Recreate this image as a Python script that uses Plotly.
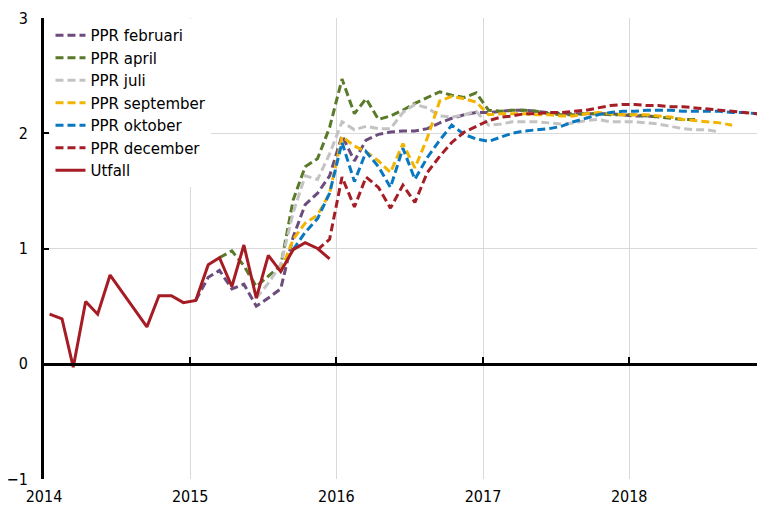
import pandas as pd
import plotly.graph_objects as go

# ---------------- data ----------------
utfall_months = ["2014-01", "2014-02", "2014-03", "2014-04", "2014-05", "2014-06",
                 "2014-09", "2014-10", "2014-11", "2014-12",
                 "2015-01", "2015-02", "2015-03", "2015-04", "2015-05", "2015-06",
                 "2015-07", "2015-08", "2015-09", "2015-10", "2015-11", "2015-12"]
utfall = [0.43, 0.39, -0.03, 0.54, 0.43, 0.77,
          0.32, 0.59, 0.59, 0.53,
          0.55, 0.86, 0.92, 0.67, 1.03, 0.57,
          0.94, 0.80, 0.99, 1.05, 1.00, 0.91]

ppr_feb_start = "2015-01"
ppr_feb = [0.55, 0.75, 0.81, 0.65, 0.69, 0.50, 0.57, 0.65, 1.10, 1.38, 1.48, 1.63,
           1.98, 1.76, 1.94, 1.99, 2.01, 2.02, 2.02, 2.04, 2.09, 2.13, 2.16, 2.18,
           2.18, 2.19, 2.20, 2.20, 2.19, 2.18, 2.17, 2.17, 2.17, 2.17, 2.17, 2.16,
           2.15, 2.15, 2.14]

ppr_apr_start = "2015-03"
ppr_apr = [0.92, 0.98, 0.85, 0.67, 0.76, 0.85, 1.42, 1.71, 1.78, 2.05,
           2.47, 2.17, 2.30, 2.12, 2.15, 2.20, 2.26, 2.31, 2.36, 2.33, 2.31, 2.35,
           2.20, 2.19, 2.20, 2.20, 2.19, 2.17, 2.16, 2.16, 2.17, 2.17, 2.16, 2.16,
           2.16, 2.15, 2.14, 2.13, 2.12, 2.12]

ppr_jul_start = "2015-06"
ppr_jul = [0.57, 0.70, 0.86, 1.31, 1.63, 1.60, 1.82,
           2.10, 2.03, 2.06, 2.04, 2.04, 2.18, 2.25, 2.22, 2.15, 2.14, 2.16, 2.19,
           2.07, 2.08, 2.10, 2.10, 2.10, 2.09, 2.08, 2.09, 2.11, 2.12, 2.10, 2.10,
           2.10, 2.09, 2.08, 2.06, 2.04, 2.03, 2.03, 2.01]

ppr_sep_start = "2015-08"
ppr_sep = [0.80, 1.08, 1.22, 1.29, 1.48,
           1.97, 1.89, 1.84, 1.76, 1.66, 1.91, 1.70, 1.96, 2.28, 2.32, 2.30, 2.27,
           2.16, 2.17, 2.17, 2.17, 2.16, 2.16, 2.15, 2.15, 2.17, 2.18, 2.17, 2.16,
           2.16, 2.16, 2.15, 2.14, 2.12, 2.11, 2.10, 2.09, 2.07]

ppr_okt_start = "2015-09"
ppr_okt = [0.99, 1.14, 1.26, 1.48,
           1.92, 1.58, 1.84, 1.71, 1.53, 1.87, 1.60, 1.79, 1.94, 2.07, 1.99, 1.95,
           1.93, 1.97, 2.00, 2.02, 2.03, 2.04, 2.06, 2.10, 2.13, 2.16, 2.18, 2.19,
           2.19, 2.20, 2.20, 2.20, 2.19, 2.19, 2.19, 2.19, 2.18, 2.18, 2.17, 2.17]

ppr_dec_start = "2015-11"
ppr_dec = [0.99, 1.08,
           1.62, 1.36, 1.62, 1.53, 1.35, 1.55, 1.40, 1.66, 1.80, 1.92, 2.01, 2.06,
           2.11, 2.14, 2.15, 2.17, 2.17, 2.18, 2.18, 2.19, 2.20, 2.22, 2.24, 2.25,
           2.25, 2.24, 2.24, 2.23, 2.23, 2.22, 2.21, 2.20, 2.19, 2.18, 2.17, 2.17]

year_ticks = ["2014", "2015", "2016", "2017", "2018"]
y_ticks = [-1, 0, 1, 2, 3]

series = [
    ("PPR februari", ppr_feb_start, ppr_feb, "#6b4c7d"),
    ("PPR april", ppr_apr_start, ppr_apr, "#5a7a2a"),
    ("PPR juli", ppr_jul_start, ppr_jul, "#c3c3c3"),
    ("PPR september", ppr_sep_start, ppr_sep, "#f2b400"),
    ("PPR oktober", ppr_okt_start, ppr_okt, "#0a78c0"),
    ("PPR december", ppr_dec_start, ppr_dec, "#a51d25"),
]


def mid_month(start, n):
    return pd.date_range(start + "-01", periods=n, freq="MS") + pd.Timedelta(days=14)


fig = go.Figure()
for name, start, vals, col in series:
    fig.add_trace(go.Scatter(
        x=mid_month(start, len(vals)), y=vals, mode="lines", name=name,
        line=dict(color=col, width=3, dash="8px,4px"),
    ))

utfall_x = pd.to_datetime([m + "-15" for m in utfall_months])
fig.add_trace(go.Scatter(x=utfall_x, y=utfall, mode="lines", name="Utfall",
                         line=dict(color="#a51c24", width=3)))

# invisible trace to carry the zero-line axis with its tick marks
fig.add_trace(go.Scatter(x=utfall_x, y=utfall, xaxis="x2", mode="lines",
                         line=dict(width=0), opacity=0, showlegend=False,
                         hoverinfo="skip"))

tick_font = dict(family="Liberation Sans Narrow, DejaVu Sans Condensed, sans-serif",
                 size=16, color="#000")

x_range = ["2014-01-01", "2018-12-06"]
# the page body adds an 8px margin, so the figure is 8px smaller than the window
fig.update_layout(
    width=757, height=500,
    margin=dict(l=36, r=0, t=10, b=29),
    paper_bgcolor="white", plot_bgcolor="white",
    showlegend=True,
    legend=dict(x=0.009, y=0.998, xanchor="left", yanchor="top",
                bgcolor="white", borderwidth=0, tracegroupgap=0,
                font=dict(family="DejaVu Sans, sans-serif", size=15, color="#000")),
    xaxis=dict(type="date", range=x_range,
               tickvals=[y + "-01-01" for y in year_ticks], ticktext=year_ticks,
               showgrid=True, gridcolor="#d9d9d9", gridwidth=1,
               showline=False, zeroline=False, ticks="",
               tickfont=tick_font, ticklabelstandoff=6),
    xaxis2=dict(type="date", range=x_range, overlaying="x", anchor="free",
                position=0.25, side="bottom", matches="x",
                tickvals=[y + "-01-01" for y in year_ticks],
                showticklabels=False, showgrid=False, zeroline=False,
                showline=True, linecolor="#000", linewidth=3,
                ticks="inside", ticklen=6, tickwidth=2, tickcolor="#000"),
    yaxis=dict(range=[-1, 3], tickvals=y_ticks,
               ticktext=["\u22121", "0", "1", "2", "3"],
               showgrid=True, gridcolor="#d9d9d9", gridwidth=1,
               zeroline=False, showline=True, linecolor="#000", linewidth=3,
               ticks="inside", ticklen=5, tickwidth=2, tickcolor="#000",
               tickfont=tick_font, ticklabelstandoff=10),
)

fig.write_html("out.html")
